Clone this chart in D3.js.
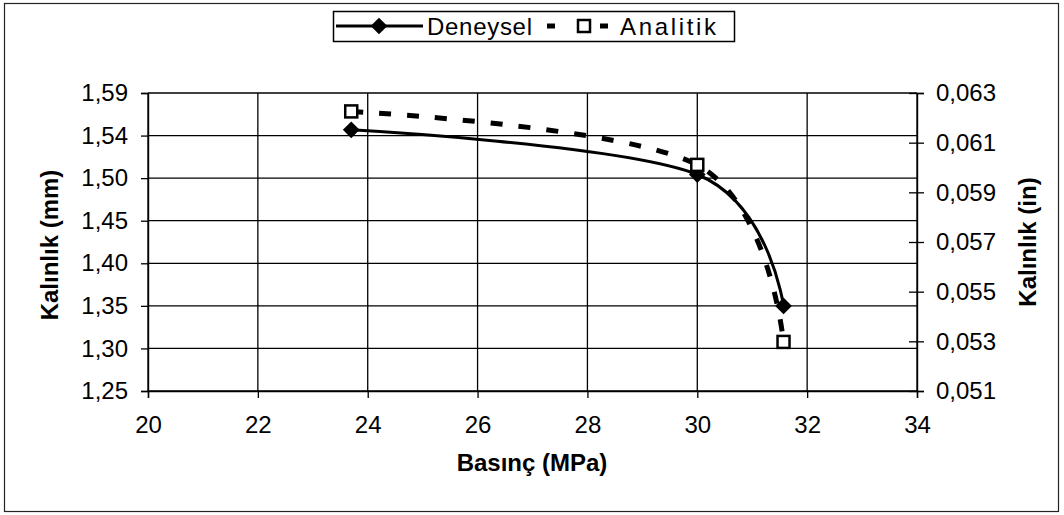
<!DOCTYPE html>
<html>
<head>
<meta charset="utf-8">
<script src="https://cdn.jsdelivr.net/npm/d3@7"></script>
<style>
  body { margin: 0; background: #fff; }
  svg { font-family: 'Liberation Sans', Arial, sans-serif; }
</style>
</head>
<body>
<div id="chart"></div>
<script>
// data
const pressure = [23.7, 30.0, 31.57];          // MPa
const deneysel = [1.548, 1.497, 1.347];        // mm
const analitik = [1.569, 1.508, 1.306];        // mm
const xTicks = [20, 22, 24, 26, 28, 30, 32, 34];
const leftTickLabels = ['1,25', '1,30', '1,35', '1,40', '1,45', '1,50', '1,54', '1,59'];
const rightTicks = [0.051, 0.053, 0.055, 0.057, 0.059, 0.061, 0.063];

const width = 1064;
const height = 515;
const plot = { left: 148, right: 917, top: 93, bottom: 391 };

const svg = d3.select('#chart').append('svg')
  .attr('width', width)
  .attr('height', height);

// outer frame
svg.append('rect')
  .attr('x', 4.5).attr('y', 3.5)
  .attr('width', 1054).attr('height', 508)
  .attr('fill', '#fff')
  .attr('stroke', '#222')
  .attr('stroke-width', 1.2);

const x = d3.scaleLinear().domain([20, 34]).range([plot.left, plot.right]);
const yLeft = d3.scaleLinear().domain([1.25, 1.59]).range([plot.bottom, plot.top]);
const yRight = d3.scaleLinear().domain([0.051, 0.063]).range([plot.bottom, plot.top]);

// left labels are evenly spaced along the axis
const leftTickValues = leftTickLabels.map((d, i) =>
  yLeft.domain()[0] + i * (yLeft.domain()[1] - yLeft.domain()[0]) / (leftTickLabels.length - 1));

const comma = d => String(d).replace('.', ',');

// grid
const grid = svg.append('g').attr('stroke', '#000').attr('stroke-width', 1.3);
grid.selectAll('.hgrid')
  .data(leftTickValues)
  .join('line')
  .attr('x1', plot.left).attr('x2', plot.right)
  .attr('y1', d => yLeft(d)).attr('y2', d => yLeft(d));
grid.selectAll('.vgrid')
  .data(xTicks)
  .join('line')
  .attr('x1', d => x(d)).attr('x2', d => x(d))
  .attr('y1', plot.top).attr('y2', plot.bottom);

// axes
const xAxis = svg.append('g')
  .attr('transform', `translate(0,${plot.bottom})`)
  .call(d3.axisBottom(x).tickValues(xTicks).tickSize(7).tickPadding(18).tickFormat(d3.format('d')));

const leftAxis = svg.append('g')
  .attr('transform', `translate(${plot.left},0)`)
  .call(d3.axisLeft(yLeft).tickValues(leftTickValues).tickSize(7).tickPadding(13)
    .tickFormat((d, i) => leftTickLabels[i]));

const rightAxis = svg.append('g')
  .attr('transform', `translate(${plot.right},0)`)
  .call(d3.axisRight(yRight).tickValues(rightTicks).tickSize(7).tickPadding(12)
    .tickFormat(d => comma(d3.format('.3f')(d))));
rightAxis.selectAll('.tick line').attr('x1', -8);

[xAxis, leftAxis, rightAxis].forEach(a => {
  a.select('.domain').attr('stroke', '#000').attr('stroke-width', 1.4);
  a.selectAll('.tick line').attr('stroke', '#000').attr('stroke-width', 1.3);
  a.selectAll('.tick text').attr('fill', '#000').style('font-size', '24px');
});

// axis titles
svg.append('text')
  .attr('x', 532)
  .attr('y', 471)
  .attr('text-anchor', 'middle')
  .style('font-size', '24px').style('font-weight', 'bold')
  .text('Basınç (MPa)');

svg.append('text')
  .attr('transform', `translate(50,${(plot.top + plot.bottom) / 2 + 3}) rotate(-90)`)
  .attr('text-anchor', 'middle')
  .attr('dy', '0.35em')
  .style('font-size', '24px').style('font-weight', 'bold')
  .text('Kalınlık (mm)');

svg.append('text')
  .attr('transform', `translate(1028,${(plot.top + plot.bottom) / 2}) rotate(-90)`)
  .attr('text-anchor', 'middle')
  .attr('dy', '0.35em')
  .style('font-size', '24px').style('font-weight', 'bold')
  .text('Kalınlık (in)');

// series, smoothed like the spreadsheet (uniform Catmull-Rom)
const line = d3.line().curve(d3.curveCatmullRom.alpha(0));

const denPts = pressure.map((p, i) => [x(p), yLeft(deneysel[i])]);
const anaPts = pressure.map((p, i) => [x(p), yLeft(analitik[i])]);

svg.append('path')
  .attr('d', line(anaPts))
  .attr('fill', 'none')
  .attr('stroke', '#000')
  .attr('stroke-width', 5)
  .attr('stroke-dasharray', '12,16');

svg.append('path')
  .attr('d', line(denPts))
  .attr('fill', 'none')
  .attr('stroke', '#000')
  .attr('stroke-width', 3);

const diamond = d3.symbol().type(d3.symbolSquare).size(140);

svg.selectAll('.den')
  .data(denPts)
  .join('path')
  .attr('d', diamond)
  .attr('transform', d => `translate(${d[0]},${d[1]}) rotate(45)`)
  .attr('fill', '#000');

svg.selectAll('.ana')
  .data(anaPts)
  .join('rect')
  .attr('x', d => d[0] - 6).attr('y', d => d[1] - 6)
  .attr('width', 12).attr('height', 12)
  .attr('fill', '#fff')
  .attr('stroke', '#000')
  .attr('stroke-width', 2.5);

// legend
const legend = svg.append('g');
legend.append('rect')
  .attr('x', 333.5).attr('y', 11.5)
  .attr('width', 401).attr('height', 30)
  .attr('fill', '#fff')
  .attr('stroke', '#000')
  .attr('stroke-width', 1.5);

legend.append('line')
  .attr('x1', 336).attr('x2', 423).attr('y1', 26).attr('y2', 26)
  .attr('stroke', '#000').attr('stroke-width', 3);
legend.append('path')
  .attr('d', diamond)
  .attr('transform', 'translate(379,26) rotate(45)')
  .attr('fill', '#000');
legend.append('text')
  .attr('x', 427).attr('y', 34.5)
  .attr('textLength', 105).attr('lengthAdjust', 'spacing')
  .style('font-size', '24px')
  .text('Deneysel');

legend.append('line')
  .attr('x1', 547).attr('x2', 608).attr('y1', 26).attr('y2', 26)
  .attr('stroke', '#000').attr('stroke-width', 5)
  .attr('stroke-dasharray', '8,45,8');
legend.append('rect')
  .attr('x', 578).attr('y', 20)
  .attr('width', 12).attr('height', 12)
  .attr('fill', '#fff')
  .attr('stroke', '#000')
  .attr('stroke-width', 2.5);
legend.append('text')
  .attr('x', 620).attr('y', 34.5)
  .attr('textLength', 96).attr('lengthAdjust', 'spacing')
  .style('font-size', '24px')
  .text('Analitik');
</script>
</body>
</html>
